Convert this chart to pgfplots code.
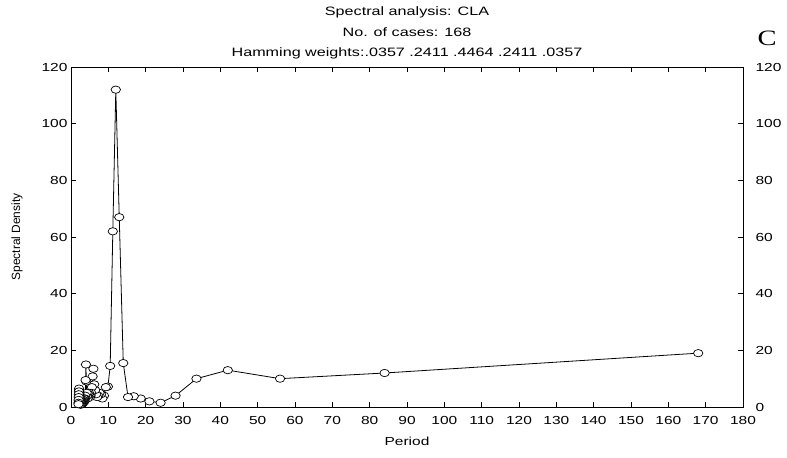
\documentclass[border=0pt]{standalone}
\usepackage{fontspec}
\setmainfont{Liberation Sans}[FakeStretch=1.33]
\newfontfamily\plainsans{Liberation Sans}
\newfontfamily\serifC{Liberation Serif}[FakeStretch=1.3]
\usepackage{pgfplots}
\pgfplotsset{compat=1.18}
\pgfplotstableread{
per val
168 19
84 12
56 10
42 13
33.6 10
28 4
24 1.5
21 2
18.667 3
16.8 3.8
15.273 3.5
14 15.5
12.923 67
12 112
11.2 62
10.5 14.5
9.882 7.2
9.333 7
8.842 4
8.4 3
8 4.5
7.636 5
7.304 4
7 3.5
6.72 4.5
6.462 6
6.222 8
6 13.5
5.793 10.8
5.6 7
5.419 5
5.25 4
5.091 3.5
4.941 4
4.8 5
4.667 4.5
4.541 3.5
4.421 3
4.308 4
4.2 5
4.098 9
4 15
3.907 9.5
3.818 4
3.733 3
3.652 2.5
3.574 2
3.5 3
3.429 2.5
3.36 2
3.294 1.5
3.231 2
3.170 2.5
3.111 2
3.055 1.5
3 1
2.947 1.5
2.897 2
2.847 1.5
2.8 1
2.754 1
2.710 1.5
2.667 2
2.625 1.5
2.585 1
2.545 0.8
2.507 1
2.471 1.5
2.435 2
2.4 2.5
2.366 3
2.333 3.5
2.301 4
2.270 4.5
2.24 5
2.211 5.5
2.182 6
2.154 6.5
2.127 5.5
2.1 4.5
2.074 3.5
2.049 2.5
2.024 1.5
2 1
}\datatable
\begin{document}
\begin{tikzpicture}
\pgfplotsset{every axis/.append style={
  scale only axis, width=672bp, height=340bp,
  xmin=0, xmax=180, ymin=0, ymax=120,
  /pgf/number format/assume math mode=true,
  tick label style={font=\fontsize{11.7}{13}\selectfont},
  major tick length=5bp,
  tick style={black, line width=0.7pt},
  axis line style={line width=0.9pt},
}}
\begin{axis}[
  at={(0,0)}, anchor=south west, name=main,
  xtick={0,10,...,180}, ytick={0,20,...,120},
  xticklabel style={yshift=-6bp},
  xlabel={Period}, ylabel={Spectral Density},
  xlabel style={at={(axis description cs:0.5,-0.1)}, anchor=center, font=\fontsize{11.7}{13}\selectfont},
  ylabel style={at={(axis description cs:-0.0804,0.5)}, anchor=center, rotate=0, font=\plainsans\fontsize{12}{13}\selectfont},
  clip=false,
]
\addplot[black, line width=0.8pt, mark=*, mark size=4.7bp,
  mark options={fill=white, draw=black, line width=0.7pt, yscale=0.78}] table[x=per, y=val] {\datatable};
\node[anchor=base, font=\fontsize{12.2}{13}\selectfont] at ([yshift=51.7bp]axis description cs:0.5,1) {Spectral analysis: CLA};
\node[anchor=base, font=\fontsize{12.2}{13}\selectfont] at ([yshift=30.5bp]axis description cs:0.5,1) {No. of cases: 168};
\node[anchor=base, font=\fontsize{12.2}{13}\selectfont] at ([yshift=10.7bp]axis description cs:0.5,1) {Hamming weights:.0357 .2411 .4464 .2411 .0357};
\node[font=\serifC\fontsize{22}{22}\selectfont] at ([xshift=24bp,yshift=29bp]axis description cs:1,1) {C};
\end{axis}
\begin{axis}[
  at={(0,0)}, anchor=south west,
  axis y line*=right, hide x axis,
  ytick={0,20,...,120},
  yticklabel style={xshift=9bp},
  ytick style={draw=none},
  axis line style={draw=none},
]
\end{axis}
\path (-71bp,-51bp) rectangle ++(787bp,458bp);
\end{tikzpicture}
\end{document}
